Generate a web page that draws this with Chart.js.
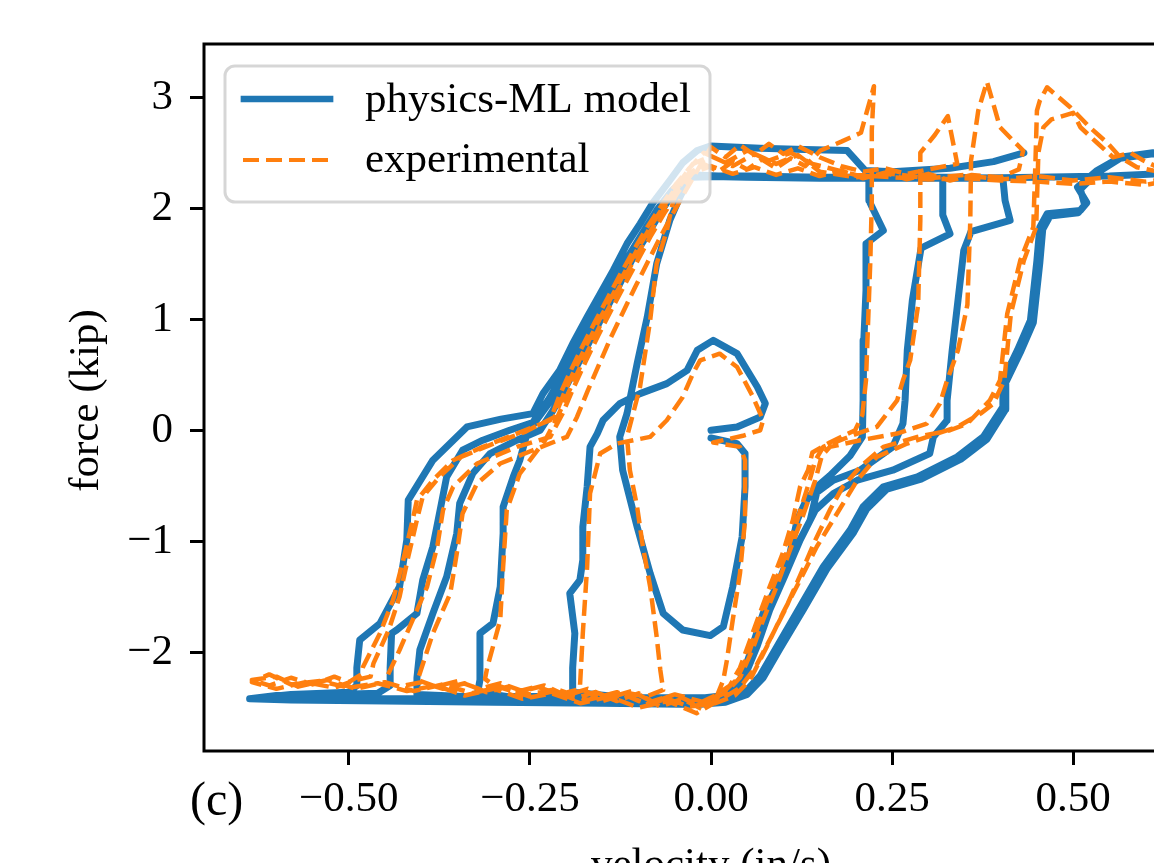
<!DOCTYPE html>
<html>
<head>
<meta charset="utf-8">
<script src="https://cdn.jsdelivr.net/npm/chart.js@4.4.1/dist/chart.umd.min.js"></script>
<style>
  html, body { margin: 0; padding: 0; background: #fff; overflow: hidden; }
  canvas { display: block; }
</style>
</head>
<body>
<canvas id="chart" width="1300" height="900"></canvas>
<script>
// velocity (in/s), force (kip) pairs, branch by branch
const xTicks = [-0.50, -0.25, 0.00, 0.25, 0.50];
const yTicks = [-2, -1, 0, 1, 2, 3];

// ---- physics-ML model, first run (small loops) ----
const modelInnerLoop = [[0.000,-0.07],[0.036,-0.12],[0.047,-0.21],[0.047,-0.51],[0.043,-0.96],[0.030,-1.41],[0.017,-1.77],[-0.001,-1.85],[-0.039,-1.80],[-0.066,-1.65],[-0.084,-1.29],[-0.102,-0.87],[-0.122,-0.36],[-0.126,-0.06],[-0.116,0.15],[-0.102,0.60],[-0.088,1.02],[-0.075,1.50],[-0.057,1.89],[-0.043,2.10],[-0.029,2.28]];
const modelTop1 = [[0.000,2.29],[0.060,2.29],[0.120,2.28],[0.180,2.27],[0.218,2.27]];
const modelDrop1 = [[0.218,2.07],[0.238,1.80],[0.214,1.68],[0.214,1.26],[0.211,0.81],[0.210,0.27],[0.209,-0.06],[0.192,-0.23],[0.164,-0.41],[0.146,-0.51],[0.130,-0.65],[0.119,-0.81],[0.109,-1.11],[0.091,-1.41],[0.075,-1.67],[0.064,-1.89],[0.047,-2.14],[0.037,-2.30],[0.019,-2.39],[-0.008,-2.41]];
const modelBottom1 = [[-0.100,-2.41],[-0.200,-2.40],[-0.280,-2.40],[-0.322,-2.36]];
const modelRise1 = [[-0.319,-2.25],[-0.319,-1.83],[-0.301,-1.74],[-0.291,-1.41],[-0.287,-0.93],[-0.287,-0.69],[-0.273,-0.42],[-0.264,-0.27],[-0.254,-0.03],[-0.240,0.10],[-0.222,0.26],[-0.205,0.45],[-0.188,0.63],[-0.171,0.81],[-0.153,1.02],[-0.135,1.26],[-0.116,1.49],[-0.098,1.68],[-0.080,1.87],[-0.061,2.07],[-0.043,2.23],[-0.022,2.30]];
const modelTop2 = [[0.050,2.28],[0.150,2.27],[0.250,2.27],[0.320,2.27]];
const modelDrop2 = [[0.320,1.94],[0.330,1.77],[0.290,1.64],[0.278,1.17],[0.271,0.72],[0.268,0.27],[0.265,0.06],[0.251,-0.15],[0.206,-0.36],[0.169,-0.45],[0.146,-0.56],[0.137,-0.81],[0.113,-1.11],[0.095,-1.35],[0.072,-1.65],[0.054,-2.01],[0.041,-2.25],[0.026,-2.39],[-0.008,-2.43]];
const modelBottom2 = [[-0.150,-2.42],[-0.300,-2.41],[-0.406,-2.38]];
const modelRise2 = [[-0.406,-2.23],[-0.402,-1.98],[-0.384,-1.65],[-0.365,-1.32],[-0.351,-0.93],[-0.347,-0.66],[-0.329,-0.39],[-0.305,-0.21],[-0.268,-0.09],[-0.236,0.00],[-0.218,0.18],[-0.199,0.41],[-0.181,0.63],[-0.163,0.86],[-0.144,1.10],[-0.126,1.32],[-0.108,1.55],[-0.088,1.76],[-0.070,1.96],[-0.050,2.16],[-0.029,2.28]];
const modelTop3 = [[0.050,2.29],[0.150,2.28],[0.250,2.28],[0.330,2.28],[0.403,2.27]];
const modelDrop3 = [[0.406,2.07],[0.413,1.89],[0.359,1.79],[0.349,1.62],[0.341,1.17],[0.333,0.72],[0.326,0.27],[0.326,0.09],[0.307,-0.06],[0.302,-0.21],[0.251,-0.36],[0.202,-0.45],[0.169,-0.57],[0.144,-0.72],[0.123,-0.99],[0.102,-1.31],[0.081,-1.62],[0.064,-1.94],[0.047,-2.21],[0.030,-2.37],[-0.008,-2.44]];
const modelBottom3 = [[-0.100,-2.42],[-0.191,-2.36]];
const modelRiseHook = [[-0.191,-2.14],[-0.188,-1.83],[-0.195,-1.47],[-0.181,-1.35],[-0.177,-1.17],[-0.177,-0.87],[-0.171,-0.51],[-0.167,-0.15],[-0.157,-0.03],[-0.149,0.09],[-0.126,0.24],[-0.098,0.33],[-0.061,0.42],[-0.033,0.54],[-0.019,0.72],[0.003,0.81],[0.036,0.69],[0.064,0.39],[0.075,0.24],[0.068,0.12],[0.036,0.03],[0.000,0.00]];

// ---- physics-ML model, second run (largest loops) ----
const modelReturn4 = [[0.660,2.36],[0.640,2.48],[0.610,2.50],[0.565,2.46],[0.533,2.34],[0.506,2.19]];
const modelDrop4 = [[0.519,2.05],[0.510,1.98],[0.464,1.95],[0.454,1.83],[0.450,1.53],[0.441,0.99],[0.423,0.72],[0.403,0.45],[0.403,0.21],[0.376,-0.06],[0.340,-0.24],[0.285,-0.42],[0.238,-0.51],[0.210,-0.69],[0.192,-0.90],[0.155,-1.23],[0.123,-1.59],[0.091,-1.95],[0.068,-2.21],[0.047,-2.36],[0.019,-2.43],[-0.015,-2.46]];
const modelBottom4 = [[-0.100,-2.44],[-0.250,-2.43],[-0.400,-2.42],[-0.520,-2.42],[-0.637,-2.42],[-0.600,-2.39],[-0.520,-2.38],[-0.460,-2.37],[-0.443,-2.30]];
const modelRise4 = [[-0.443,-2.14],[-0.441,-1.83],[-0.434,-1.80],[-0.406,-1.65],[-0.398,-1.35],[-0.384,-1.05],[-0.374,-0.72],[-0.365,-0.42],[-0.343,-0.18],[-0.315,-0.09],[-0.278,0.00],[-0.246,0.07],[-0.225,0.27],[-0.204,0.50],[-0.185,0.72],[-0.167,0.95],[-0.149,1.17],[-0.130,1.38],[-0.112,1.59],[-0.094,1.78],[-0.075,1.98],[-0.054,2.16],[-0.032,2.29]];
const modelTop5 = [[0.050,2.28],[0.150,2.28],[0.250,2.27],[0.350,2.27],[0.450,2.28],[0.550,2.29],[0.620,2.31],[0.660,2.35],[0.640,2.47],[0.610,2.49],[0.565,2.45],[0.533,2.32],[0.510,2.17]];
const modelDrop5 = [[0.516,2.03],[0.507,1.96],[0.468,1.93],[0.458,1.81],[0.454,1.51],[0.445,0.97],[0.427,0.70],[0.407,0.43],[0.407,0.19],[0.381,-0.08],[0.345,-0.26],[0.290,-0.44],[0.243,-0.53],[0.215,-0.71],[0.197,-0.92],[0.160,-1.25],[0.128,-1.61],[0.095,-1.97],[0.072,-2.23],[0.050,-2.38],[0.020,-2.45],[-0.015,-2.47]];
const modelBottom5 = [[-0.150,-2.46],[-0.300,-2.45],[-0.450,-2.44],[-0.580,-2.43],[-0.637,-2.42],[-0.580,-2.38],[-0.500,-2.36],[-0.489,-2.30]];
const modelRise5 = [[-0.489,-2.14],[-0.485,-1.89],[-0.457,-1.74],[-0.430,-1.41],[-0.420,-0.99],[-0.418,-0.63],[-0.384,-0.27],[-0.337,0.03],[-0.290,0.10],[-0.246,0.15],[-0.232,0.33],[-0.209,0.54],[-0.191,0.78],[-0.171,1.02],[-0.153,1.23],[-0.135,1.44],[-0.116,1.68],[-0.098,1.86],[-0.080,2.05],[-0.057,2.25],[-0.039,2.41],[-0.019,2.52],[-0.001,2.56]];
const modelTopEnd = [[0.068,2.54],[0.130,2.53],[0.188,2.52],[0.213,2.34],[0.250,2.33],[0.330,2.36],[0.390,2.42],[0.432,2.50]];

// ---- experimental ----
const expInnerDrop = [[-0.030,2.32],[-0.043,2.20],[-0.052,2.07],[-0.061,1.80],[-0.075,1.50],[-0.084,0.99],[-0.098,0.39],[-0.116,-0.06],[-0.112,-0.36],[-0.102,-0.69],[-0.094,-1.05],[-0.084,-1.41],[-0.075,-1.86],[-0.070,-2.16],[-0.066,-2.34]];
const expBottom1 = [[-0.090,-2.40],[-0.120,-2.36],[-0.150,-2.42],[-0.180,-2.33],[-0.210,-2.38],[-0.240,-2.31],[-0.270,-2.36],[-0.300,-2.30],[-0.312,-2.24]];
const expRise1 = [[-0.309,-2.14],[-0.291,-1.71],[-0.287,-1.23],[-0.282,-0.72],[-0.264,-0.39],[-0.250,-0.27],[-0.229,-0.09],[-0.212,0.12],[-0.196,0.35],[-0.180,0.58],[-0.163,0.81],[-0.146,1.04],[-0.128,1.27],[-0.110,1.49],[-0.092,1.70],[-0.073,1.91],[-0.053,2.12],[-0.033,2.30]];
const expTop1 = [[-0.010,2.40],[0.010,2.33],[0.030,2.42],[0.050,2.35],[0.070,2.44],[0.090,2.36],[0.110,2.45],[0.130,2.38],[0.151,2.52],[0.180,2.60],[0.207,2.68],[0.225,3.10]];
const expDrop1 = [[0.222,2.70],[0.222,2.07],[0.220,1.53],[0.217,0.99],[0.214,0.45],[0.209,0.14],[0.199,0.00],[0.164,-0.11],[0.140,-0.20],[0.134,-0.36],[0.123,-0.51],[0.113,-0.81],[0.099,-1.11],[0.081,-1.41],[0.064,-1.71],[0.054,-1.89],[0.040,-2.14],[0.026,-2.30],[0.006,-2.39]];
const expBottom2 = [[-0.020,-2.47],[-0.050,-2.38],[-0.080,-2.45],[-0.110,-2.35],[-0.140,-2.41],[-0.170,-2.33],[-0.200,-2.39],[-0.230,-2.30],[-0.260,-2.35],[-0.290,-2.28],[-0.320,-2.33],[-0.350,-2.26],[-0.380,-2.31],[-0.405,-2.25]];
const expRise2 = [[-0.402,-2.19],[-0.384,-1.83],[-0.360,-1.47],[-0.351,-1.11],[-0.343,-0.75],[-0.323,-0.48],[-0.291,-0.30],[-0.246,-0.18],[-0.199,-0.06],[-0.185,0.12],[-0.170,0.36],[-0.154,0.60],[-0.138,0.84],[-0.121,1.07],[-0.104,1.30],[-0.087,1.52],[-0.070,1.74],[-0.052,1.96],[-0.034,2.17],[-0.018,2.35]];
const expTop2 = [[0.000,2.55],[0.020,2.46],[0.040,2.57],[0.060,2.48],[0.080,2.58],[0.100,2.49],[0.120,2.56],[0.150,2.46],[0.180,2.38],[0.210,2.33],[0.240,2.36],[0.270,2.31],[0.300,2.35],[0.340,2.40],[0.327,2.83],[0.309,2.66],[0.289,2.50]];
const expDrop2 = [[0.289,1.89],[0.286,1.13],[0.275,0.63],[0.265,0.45],[0.257,0.27],[0.229,0.03],[0.202,-0.03],[0.155,-0.15],[0.144,-0.27],[0.134,-0.50],[0.119,-0.81],[0.104,-1.11],[0.086,-1.41],[0.068,-1.71],[0.051,-2.03],[0.035,-2.25],[0.012,-2.39]];
const expBottom3 = [[-0.010,-2.52],[-0.040,-2.42],[-0.070,-2.49],[-0.100,-2.37],[-0.130,-2.44],[-0.160,-2.36],[-0.190,-2.42],[-0.220,-2.34],[-0.250,-2.38],[-0.280,-2.31],[-0.310,-2.36],[-0.340,-2.28],[-0.370,-2.33],[-0.400,-2.27],[-0.430,-2.31],[-0.450,-2.27]];
const expRise3 = [[-0.448,-2.23],[-0.430,-1.98],[-0.412,-1.71],[-0.392,-1.41],[-0.378,-1.05],[-0.370,-0.72],[-0.356,-0.51],[-0.323,-0.30],[-0.268,-0.15],[-0.222,-0.06],[-0.205,0.15],[-0.190,0.38],[-0.173,0.62],[-0.156,0.85],[-0.138,1.08],[-0.120,1.30],[-0.102,1.52],[-0.084,1.74],[-0.065,1.95],[-0.045,2.15],[-0.025,2.32]];
const expTop3 = [[0.000,2.38],[0.030,2.31],[0.060,2.37],[0.090,2.30],[0.120,2.36],[0.150,2.29],[0.180,2.34],[0.210,2.27],[0.240,2.32],[0.270,2.26],[0.300,2.31],[0.330,2.25],[0.360,2.30],[0.400,2.28],[0.425,2.35],[0.431,2.52],[0.417,2.61],[0.399,2.73],[0.381,3.14],[0.369,2.88],[0.359,2.43]];
const expDrop3 = [[0.358,1.89],[0.354,1.13],[0.341,0.72],[0.326,0.45],[0.316,0.24],[0.298,0.06],[0.257,-0.03],[0.206,-0.09],[0.164,-0.15],[0.153,-0.23],[0.144,-0.45],[0.127,-0.77],[0.109,-1.08],[0.091,-1.40],[0.072,-1.71],[0.057,-1.98],[0.040,-2.23],[0.019,-2.37]];
const expBottom4 = [[-0.010,-2.45],[-0.050,-2.38],[-0.090,-2.46],[-0.130,-2.36],[-0.170,-2.43],[-0.210,-2.34],[-0.250,-2.40],[-0.290,-2.31],[-0.330,-2.37],[-0.370,-2.29],[-0.410,-2.35],[-0.450,-2.27],[-0.490,-2.33],[-0.530,-2.25],[-0.570,-2.31],[-0.600,-2.22],[-0.634,-2.25],[-0.610,-2.30],[-0.580,-2.23],[-0.550,-2.29],[-0.520,-2.22],[-0.500,-2.27],[-0.483,-2.20]];
const expRise4 = [[-0.481,-2.14],[-0.457,-1.83],[-0.439,-1.53],[-0.425,-1.17],[-0.412,-0.81],[-0.406,-0.63],[-0.384,-0.45],[-0.356,-0.27],[-0.315,-0.15],[-0.268,-0.03],[-0.222,0.09],[-0.210,0.30],[-0.195,0.52],[-0.178,0.75],[-0.160,0.98],[-0.142,1.20],[-0.124,1.42],[-0.106,1.63],[-0.088,1.83],[-0.068,2.03],[-0.048,2.22],[-0.030,2.36]];
const expTop4 = [[-0.010,2.50],[0.020,2.41],[0.050,2.52],[0.080,2.43],[0.110,2.50],[0.140,2.40],[0.170,2.35],[0.200,2.30],[0.250,2.28],[0.300,2.26],[0.350,2.27],[0.400,2.25],[0.450,2.24],[0.500,2.22],[0.550,2.24],[0.600,2.21],[0.640,2.26],[0.660,2.30],[0.610,2.34],[0.588,2.37],[0.565,2.46],[0.547,2.59],[0.523,2.73],[0.496,2.91],[0.464,3.09],[0.454,2.97],[0.450,2.88],[0.448,2.43]];
const expDrop4 = [[0.445,1.83],[0.427,1.53],[0.409,1.05],[0.399,0.45],[0.385,0.27],[0.354,0.06],[0.330,0.00],[0.285,-0.06],[0.238,-0.15],[0.206,-0.33],[0.182,-0.51],[0.164,-0.72],[0.144,-0.99],[0.123,-1.31],[0.102,-1.62],[0.081,-1.89],[0.061,-2.14],[0.040,-2.32],[0.012,-2.43]];
const expBottom5 = [[-0.020,-2.55],[-0.060,-2.44],[-0.100,-2.50],[-0.140,-2.40],[-0.180,-2.46],[-0.220,-2.37],[-0.260,-2.42],[-0.300,-2.33],[-0.340,-2.39],[-0.380,-2.30],[-0.420,-2.35],[-0.460,-2.28],[-0.500,-2.32],[-0.540,-2.26],[-0.580,-2.29],[-0.610,-2.20],[-0.634,-2.27],[-0.600,-2.33],[-0.560,-2.27],[-0.520,-2.32],[-0.490,-2.25],[-0.470,-2.22]];
const expRise5 = [[-0.466,-2.10],[-0.445,-1.80],[-0.430,-1.50],[-0.418,-1.14],[-0.405,-0.78],[-0.398,-0.60],[-0.375,-0.42],[-0.345,-0.24],[-0.300,-0.12],[-0.255,-0.01],[-0.216,0.12],[-0.203,0.33],[-0.188,0.55],[-0.171,0.78],[-0.153,1.01],[-0.135,1.23],[-0.117,1.45],[-0.099,1.66],[-0.081,1.86],[-0.061,2.06],[-0.042,2.25],[-0.025,2.40]];
const expTop5 = [[0.000,2.47],[0.030,2.38],[0.060,2.49],[0.090,2.40],[0.120,2.48],[0.150,2.33],[0.200,2.28],[0.250,2.31],[0.300,2.27],[0.350,2.30],[0.400,2.26],[0.450,2.29],[0.500,2.25],[0.550,2.28],[0.600,2.24],[0.650,2.28],[0.620,2.36],[0.597,2.43],[0.579,2.50],[0.555,2.46],[0.533,2.59],[0.510,2.73],[0.500,2.86],[0.470,2.80],[0.459,2.73],[0.452,2.50]];
const expDrop5 = [[0.449,1.83],[0.432,1.53],[0.414,1.05],[0.405,0.45],[0.390,0.24],[0.372,0.15],[0.340,0.03],[0.271,-0.12],[0.229,-0.24],[0.202,-0.45],[0.174,-0.75],[0.146,-1.05],[0.123,-1.35],[0.099,-1.65],[0.077,-1.95],[0.054,-2.25],[0.033,-2.39],[0.006,-2.46]];
const expBottom6 = [[-0.030,-2.49],[-0.060,-2.42],[-0.090,-2.47],[-0.120,-2.38],[-0.150,-2.44],[-0.181,-2.32]];
const expRiseHook = [[-0.177,-1.83],[-0.171,-1.23],[-0.167,-0.57],[-0.153,-0.21],[-0.130,-0.12],[-0.084,-0.06],[-0.061,0.09],[-0.039,0.30],[-0.025,0.51],[-0.015,0.63],[0.012,0.69],[0.036,0.57],[0.058,0.30],[0.072,0.09],[0.068,0.00],[0.044,-0.05],[0.003,-0.11],[0.040,-0.15],[0.047,-0.27],[0.047,-0.81],[0.040,-1.29],[0.030,-1.71],[0.022,-2.07],[0.017,-2.25],[0.006,-2.43],[-0.030,-2.50]];

const BREAK = null;
const modelBranches = [modelInnerLoop, modelTop1, modelDrop1, modelBottom1, modelRise1, modelTop2, modelDrop2, modelBottom2, modelRise2,
  modelTop3, modelDrop3, modelBottom3, modelRiseHook, BREAK,
  modelReturn4, modelDrop4, modelBottom4, modelRise4, modelTop5, modelDrop5, modelBottom5, modelRise5, modelTopEnd];
const expBranches = [expInnerDrop, expBottom1, expRise1, expTop1, expDrop1, expBottom2, expRise2, expTop2, expDrop2, expBottom3, expRise3,
  expTop3, expDrop3, expBottom4, expRise4, expTop4, expDrop4, expBottom5, expRise5, expTop5, expDrop5, expBottom6, expRiseHook];

function toPoints(branches) {
  const pts = [];
  branches.forEach(b => {
    if (b === BREAK) { pts.push({ x: null, y: null }); return; }
    b.forEach(p => pts.push({ x: p[0], y: p[1] }));
  });
  return pts;
}

const BLUE = '#1f77b4';
const ORANGE = '#ff7f0e';
const SERIF = '"Liberation Serif", "Times New Roman", serif';
const minus = s => String(s).replace('-', '\u2212');

// legend, frame and axis titles drawn like the matplotlib original
const decorations = {
  id: 'decorations',
  afterDatasetsDraw(chart) {
    const ctx = chart.ctx;
    const a = chart.chartArea;
    const bx = a.left + 21, by = a.top + 22;
    ctx.save();
    ctx.beginPath();
    ctx.roundRect(bx, by, 485, 136, 10);
    ctx.fillStyle = 'rgba(255,255,255,0.8)';
    ctx.fill();
    ctx.lineWidth = 3;
    ctx.strokeStyle = 'rgba(204,204,204,0.8)';
    ctx.stroke();

    ctx.lineWidth = 6.7;
    ctx.lineCap = 'square';
    ctx.strokeStyle = BLUE;
    ctx.beginPath();
    ctx.moveTo(bx + 19, by + 33);
    ctx.lineTo(bx + 105, by + 33);
    ctx.stroke();

    ctx.lineWidth = 4;
    ctx.lineCap = 'butt';
    ctx.setLineDash([16, 7]);
    ctx.strokeStyle = ORANGE;
    ctx.beginPath();
    ctx.moveTo(bx + 18, by + 94);
    ctx.lineTo(bx + 104, by + 94);
    ctx.stroke();
    ctx.setLineDash([]);

    ctx.fillStyle = '#000';
    ctx.font = '43px ' + SERIF;
    ctx.textAlign = 'left';
    ctx.textBaseline = 'alphabetic';
    ctx.fillText('physics-ML model', bx + 140, by + 46);
    ctx.fillText('experimental', bx + 140, by + 106);
    ctx.restore();
  },
  afterDraw(chart) {
    const ctx = chart.ctx;
    const a = chart.chartArea;
    ctx.save();
    ctx.lineWidth = 3;
    ctx.strokeStyle = '#000';
    ctx.strokeRect(a.left, a.top, a.right - a.left, a.bottom - a.top);

    ctx.fillStyle = '#000';
    ctx.font = '43px ' + SERIF;
    ctx.textAlign = 'center';
    ctx.textBaseline = 'alphabetic';
    ctx.fillText('velocity (in/s)', (a.left + a.right) / 2, a.bottom + 126);

    ctx.save();
    ctx.translate(98, (a.top + a.bottom) / 2 + 3);
    ctx.rotate(-Math.PI / 2);
    ctx.fillText('force (kip)', 0, 0);
    ctx.restore();

    ctx.textAlign = 'left';
    ctx.font = '48px ' + SERIF;
    ctx.fillText('(c)', 190, a.bottom + 64);
    ctx.restore();
  }
};

const tickFont = { family: SERIF, size: 43, lineHeight: 1 };

new Chart(document.getElementById('chart'), {
  type: 'scatter',
  data: {
    datasets: [
      {
        label: 'physics-ML model',
        data: toPoints(modelBranches),
        showLine: true,
        borderColor: BLUE,
        borderWidth: 7,
        borderCapStyle: 'round',
        borderJoinStyle: 'round',
        pointRadius: 0,
        tension: 0,
        spanGaps: false,
        order: 2
      },
      {
        label: 'experimental',
        data: toPoints(expBranches),
        showLine: true,
        borderColor: ORANGE,
        borderWidth: 4.5,
        borderDash: [16, 7],
        borderJoinStyle: 'round',
        pointRadius: 0,
        tension: 0,
        spanGaps: false,
        order: 1
      }
    ]
  },
  options: {
    responsive: false,
    animation: false,
    devicePixelRatio: 1,
    layout: { padding: { left: 0, top: 44, right: 82, bottom: 0 } },
    plugins: { legend: { display: false }, tooltip: { enabled: false } },
    scales: {
      x: {
        type: 'linear',
        min: -0.70,
        max: 0.70,
        afterFit: s => { s.height = 149; },
        afterBuildTicks: s => { s.ticks = xTicks.map(v => ({ value: v })); },
        border: { display: false },
        grid: { drawOnChartArea: false, drawTicks: true, tickLength: 14, tickWidth: 3, tickColor: '#000' },
        ticks: {
          stepSize: 0.25, includeBounds: false, autoSkip: false, maxRotation: 0,
          padding: 13, color: '#000', font: tickFont,
          callback: v => minus(Number(v).toFixed(2))
        }
      },
      y: {
        type: 'linear',
        min: -2.89,
        max: 3.48,
        afterFit: s => { s.width = 204; },
        afterBuildTicks: s => { s.ticks = yTicks.map(v => ({ value: v })); },
        border: { display: false },
        grid: { drawOnChartArea: false, drawTicks: true, tickLength: 14, tickWidth: 3, tickColor: '#000' },
        ticks: {
          stepSize: 1, includeBounds: false, autoSkip: false,
          padding: 17, color: '#000', font: tickFont,
          callback: v => minus(Math.round(v))
        }
      }
    }
  },
  plugins: [decorations]
});
</script>
</body>
</html>
